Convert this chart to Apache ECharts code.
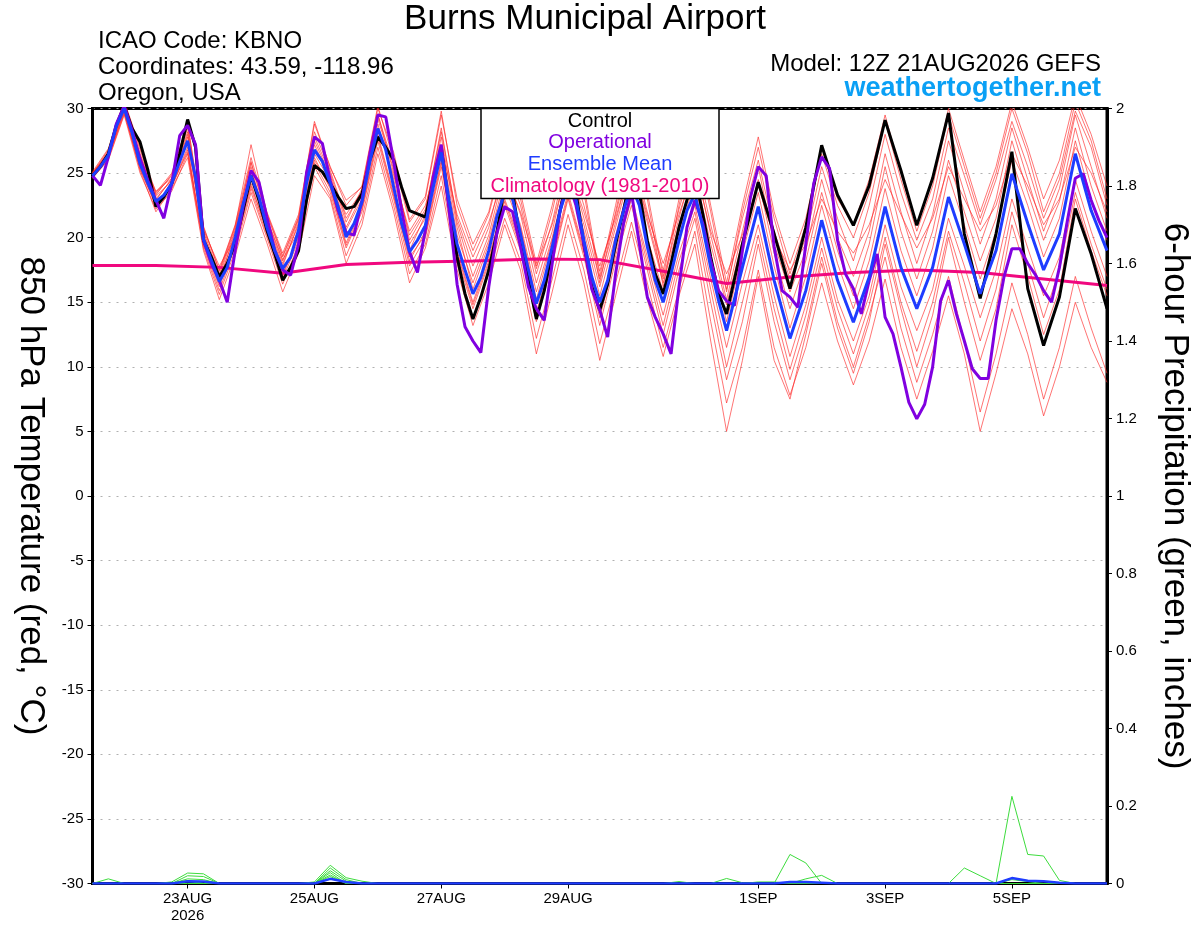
<!DOCTYPE html>
<html><head><meta charset="utf-8">
<script src="https://cdn.jsdelivr.net/npm/echarts@6/dist/echarts.min.js"></script>
<style>html,body{margin:0;padding:0;background:#fff}#c{width:1200px;height:927px}</style>
</head><body><div id="c"></div>
<script>
// ---- time axis: 3-hourly steps from 12Z 21AUG2026 to 12Z 06SEP2026 ----
const stepHours = 3;
const nSteps = 129;
const tickIndex = [12, 28, 44, 60, 84, 100, 116];
const tickLabels = ['23AUG\n2026', '25AUG', '27AUG', '29AUG', '1SEP', '3SEP', '5SEP'];

// ---- 850 hPa temperature (°C) ----
// Control: 3-hourly to 240h (index 0..80), then 6-hourly (index 82..128)
const control3h = [24.8,25.5,26.5,28.7,30.2,28.45,27.4,25.2,22.4,23.15,
24.2,26.5,29.15,27.0,19.8,18.5,16.95,18.0,19.5,22.1,
24.8,22.9,20.6,18.75,16.7,17.7,19.0,22.9,25.6,25.1,
24.2,23.15,22.25,22.4,23.4,26.0,27.8,27.0,26.0,23.9,
22.1,21.85,21.6,24.4,27.0,22.4,18.5,15.65,13.7,15.4,
17.5,20.3,24.0,23.5,19.8,16.7,13.7,15.9,19.0,22.1,
25.0,23.5,19.5,16.2,14.4,16.4,19.5,22.1,25.0,23.5,
19.8,17.2,15.65,18.0,20.8,22.9,24.8,21.85,18.5,15.65,14.1];
const control6h = [19.5,24.3,20.3,16.05,20.8,27.15,23.3,20.95,24.05,29.1,25.2,20.95,
24.6,29.65,20.3,15.3,20.3,26.65,16.05,11.65,15.4,22.25,18.75,14.5];

// Ensemble mean
const mean3h = [24.8,25.5,26.4,28.6,30.0,28.1,25.7,24.2,22.8,23.3,
24.2,25.9,27.5,24.7,19.9,18.25,16.6,17.7,20.05,22.6,
24.8,23.15,20.8,19.0,17.6,18.5,20.6,24.2,26.8,25.9,
24.2,22.4,20.05,21.1,22.75,25.9,28.45,26.8,23.9,21.1,
18.9,19.8,20.95,23.9,26.6,22.9,19.5,17.5,15.65,16.95,
19.0,21.6,23.5,23.0,20.3,17.5,14.9,16.7,19.3,22.1,
24.0,23.0,19.8,16.95,15.0,16.7,19.8,22.1,24.0,22.5,
19.3,16.7,15.0,17.2,19.8,22.1,23.4,20.8,17.7,15.1,12.8];
const mean6h = [17.7,22.4,16.7,12.2,15.9,21.35,16.7,13.45,16.95,22.4,17.7,14.5,
17.7,23.15,19.5,15.65,19.0,24.95,21.1,17.5,20.3,26.5,22.1,19.0];

// Operational: 3-hourly throughout (index 0..128)
const operational = [24.8,24.05,26.25,28.8,30.2,28.3,26.1,24.4,22.9,21.5,
24.2,27.9,28.7,27.2,19.8,18.0,16.7,15.0,19.0,22.4,
25.2,24.3,21.6,19.0,17.5,17.1,19.5,25.0,27.8,27.3,
24.4,22.1,20.4,20.2,22.9,26.5,29.5,29.35,25.9,22.1,
18.9,17.3,20.6,24.7,27.2,22.1,16.4,13.1,12.0,11.1,
16.2,20.3,22.4,22.0,19.3,16.2,14.5,13.6,18.0,22.1,
24.5,22.5,19.5,16.0,14.4,12.3,17.2,21.1,23.5,19.5,
15.4,13.85,12.55,11.0,16.2,20.8,22.9,21.1,18.2,15.9,
15.1,14.75,19.0,23.1,25.5,24.8,19.3,15.9,15.4,14.6,
19.5,24.2,26.25,25.35,19.8,17.2,16.05,14.1,16.7,18.75,
13.85,12.55,10.0,7.25,5.97,7.1,10.0,15.1,16.7,14.1,
12.0,9.85,9.1,9.1,13.6,16.95,19.15,19.15,18.0,17.1,
15.9,15.0,17.7,21.3,24.6,24.95,22.9,21.3,20.0];

// Climatology (1981-2010), daily at 12Z (index 0,8,...,128)
const climatology = [17.85,17.85,17.7,17.25,17.93,18.1,18.2,18.35,18.3,17.4,16.45,16.95,17.3,17.5,17.3,16.8,16.3];

// Ensemble members, 6-hourly (index 0,2,...,128)
const member01 = [25.0,26.8,30.4,26.5,23.4,24.8,28.5,20.5,17.2,20.8,25.8,21.8,18.5,21.5,28.2,25.2,21.5,23.5,29.6,25.0,20.2,22.2,28.2,21.5,17.8,20.8,25.8,22.5,17.2,21.2,26.5,22.5,17.4,21.8,26.8,22.0,17.5,22.2,26.5,21.0,16.0,21.5,26.0,20.5,16.8,20.0,25.5,21.5,18.2,22.5,28.0,23.5,19.8,23.0,28.5,24.8,21.0,24.5,29.0,25.5,21.5,24.5,29.8,27.0,22.5];
const member02 = [24.6,26.0,29.5,25.0,22.2,23.6,26.5,19.2,15.6,19.0,23.5,20.0,16.4,19.5,25.5,23.2,18.6,21.5,27.0,22.5,17.2,19.5,24.8,18.0,13.8,17.2,21.5,18.2,12.2,16.8,21.8,17.5,11.8,16.5,21.2,16.5,11.5,16.0,20.5,13.5,7.2,11.5,17.5,11.5,7.8,11.5,16.5,12.0,8.6,12.0,16.8,11.5,7.5,11.2,15.5,11.0,5.0,9.5,14.5,11.0,6.2,10.0,15.0,11.5,8.8];
const member03 = [24.9,26.5,30.2,26.0,23.0,24.5,27.8,20.2,16.8,20.2,25.2,21.2,18.0,21.0,27.2,24.6,20.6,23.0,28.8,24.5,19.5,21.5,27.2,20.2,16.5,19.8,24.5,21.0,15.8,20.0,25.0,21.0,16.2,20.8,25.5,21.2,16.5,21.0,25.0,19.5,14.8,19.8,24.5,18.8,14.5,18.2,23.5,19.0,15.5,19.5,25.5,20.5,16.8,20.5,26.0,22.0,18.2,21.5,27.5,23.5,19.8,22.8,28.5,24.0,20.5];
const member04 = [24.7,26.2,29.8,25.5,22.6,24.0,27.0,19.5,16.2,19.6,24.2,20.4,17.0,20.2,26.2,23.8,19.6,22.4,28.0,23.4,18.2,20.5,26.0,19.0,15.0,18.5,23.0,19.6,14.2,18.6,23.5,19.0,14.2,19.0,23.2,18.5,14.0,18.8,22.5,16.8,11.5,16.5,21.0,15.5,10.8,14.8,20.0,15.2,12.0,15.5,21.0,16.2,12.8,16.0,21.5,17.8,13.8,17.5,23.0,19.2,15.5,18.5,24.5,20.5,17.0];
const member05 = [25.1,26.9,30.6,27.0,23.5,25.0,28.8,20.8,17.5,21.0,26.2,22.0,18.8,21.8,28.8,25.5,22.5,24.0,30.2,26.0,21.2,23.0,29.5,23.0,19.5,22.0,27.0,23.5,18.0,22.5,28.0,24.0,17.0,22.5,28.5,23.5,17.0,23.0,28.8,22.5,16.5,22.5,27.8,22.0,18.0,21.5,27.0,23.0,21.0,24.5,29.5,25.0,21.0,24.5,30.0,26.0,22.0,25.5,30.5,27.0,23.0,26.0,31.0,28.0,24.0];
const member06 = [24.8,26.3,29.9,25.2,22.0,23.8,26.2,19.0,15.2,18.6,23.0,19.6,15.8,18.8,24.8,23.0,18.0,21.0,26.5,22.0,16.5,19.2,24.0,17.5,13.2,16.5,21.0,17.5,11.0,15.8,21.0,16.5,10.5,15.5,20.5,15.2,10.8,15.5,19.5,12.0,5.0,10.5,17.0,10.5,7.5,12.5,18.0,13.0,9.5,13.5,19.5,14.5,10.0,14.0,20.0,15.0,10.5,14.5,21.0,17.0,12.5,16.0,23.0,19.0,15.5];
const member07 = [25.0,26.6,30.1,25.8,23.2,24.4,28.0,20.0,16.5,20.5,25.5,21.0,17.8,21.2,27.5,24.8,20.8,23.3,29.2,25.3,19.0,21.8,27.8,20.8,16.0,19.5,24.0,20.8,15.2,19.8,24.8,20.5,15.5,20.2,24.8,20.0,15.8,20.5,24.2,18.5,13.5,18.8,23.5,17.8,13.0,17.0,22.5,18.0,14.5,18.2,23.8,19.0,15.5,19.2,24.8,21.0,16.8,20.5,26.0,22.5,18.5,21.5,27.5,23.0,19.8];
const member08 = [24.8,26.4,30.0,26.2,23.6,24.6,27.3,20.6,17.8,20.0,24.5,21.5,18.3,20.5,26.5,24.4,21.8,23.6,28.5,24.8,20.5,22.5,27.0,21.8,18.5,21.2,25.0,22.0,17.8,21.0,25.5,22.0,17.8,21.5,25.8,21.8,18.0,21.8,25.5,20.5,17.2,20.2,24.0,20.0,17.5,19.5,23.0,20.5,18.8,21.0,24.5,21.8,19.2,21.5,25.5,23.0,20.5,22.5,26.5,24.0,21.0,23.0,27.0,25.0,22.0];
const member09 = [24.6,26.1,29.6,25.4,22.4,23.9,26.8,19.4,15.9,19.3,23.8,20.2,16.8,19.8,25.8,23.5,19.2,22.0,27.5,23.0,17.8,20.0,25.5,18.5,14.5,18.0,22.5,19.0,13.5,18.0,23.0,18.5,13.2,18.2,22.5,17.5,12.5,17.5,21.5,15.0,9.0,13.5,19.5,13.5,9.0,13.0,18.5,13.5,10.0,14.0,18.5,13.0,8.8,12.5,17.0,12.0,6.5,11.0,16.5,12.5,7.5,11.5,17.0,13.0,9.5];
const member10 = [24.9,26.7,30.3,26.4,22.9,24.6,28.2,20.3,17.0,20.6,25.9,21.4,18.2,21.4,27.8,25.0,21.2,23.8,29.5,25.6,19.8,22.0,28.5,21.2,17.0,20.2,25.2,21.8,16.5,20.5,25.8,21.5,16.8,21.2,26.0,21.5,16.8,21.5,26.0,20.2,15.2,20.5,25.5,19.5,15.8,19.0,24.5,20.0,17.0,20.5,26.5,22.0,18.0,21.8,27.5,23.5,19.5,23.0,28.5,24.5,20.5,23.8,29.5,25.5,21.5];
const member11 = [24.7,26.3,29.7,25.3,22.5,24.1,26.6,19.7,16.4,19.8,24.0,20.6,17.2,20.0,26.0,23.9,19.4,22.2,27.8,23.2,18.5,20.2,25.8,18.8,14.8,18.2,22.8,19.3,13.8,18.3,23.2,18.8,13.8,18.6,23.0,18.0,13.2,18.2,22.0,16.0,10.0,15.0,20.2,14.5,9.8,14.0,19.2,14.5,11.0,14.8,20.0,15.0,11.2,15.0,20.5,16.5,12.0,16.0,22.0,18.0,13.8,17.5,23.5,19.5,16.0];
const member12 = [25.0,26.5,30.5,26.8,23.3,24.9,28.9,20.9,17.4,20.9,27.2,21.9,18.6,21.6,29.0,25.4,22.9,23.9,30.0,26.6,21.4,23.2,29.8,22.5,19.0,21.8,26.5,23.0,17.6,22.0,27.5,23.5,16.5,22.0,27.8,23.0,16.2,22.5,28.0,22.0,15.8,22.0,27.0,21.5,17.2,21.0,26.5,22.5,20.0,23.5,29.0,24.5,20.5,24.0,29.5,25.5,21.5,25.0,30.0,26.5,22.0,25.0,30.5,27.5,23.0];
const members = [member01,member02,member03,member04,member05,member06,member07,member08,member09,member10,member11,member12];

// ---- 6-hour precipitation (inches), nonzero 6-hourly steps [step, value]; all other steps 0 ----
const precipMember1 = [[1,0.012],[5,0.004],[6,0.027],[7,0.025],[14,0.004],[15,0.047],[16,0.015],[17,0.006]];
const precipMember2 = [[6,0.02],[7,0.018],[15,0.04],[16,0.01],[37,0.005],[40,0.013],[41,0.002]];
const precipMember3 = [[6,0.012],[7,0.01],[15,0.033],[16,0.006],[44,0.075],[45,0.053]];
const precipMember4 = [[6,0.008],[15,0.028],[42,0.004],[43,0.004],[45,0.012],[46,0.021]];
const precipMember5 = [[15,0.022],[55,0.04],[56,0.02],[58,0.225],[59,0.075],[60,0.071],[61,0.008]];
const precipMember6 = [[6,0.006],[15,0.018],[58,0.01],[59,0.005]];
const precipMembers = [precipMember1,precipMember2,precipMember3,precipMember4,precipMember5,precipMember6];
const precipMean = [[6,0.006],[7,0.005],[15,0.012],[16,0.004],[44,0.004],[45,0.004],[46,0.002],[58,0.014],[59,0.007],[60,0.006],[61,0.002]];

// ---- build ----
const FONT = '"Liberation Sans", Arial, Helvetica, sans-serif';
const categories = Array.from({length: nSteps}, (_, j) => String(j * stepHours));
const tickSet = new Set(tickIndex);
function labelFor(idx) { const k = tickIndex.indexOf(idx); return k >= 0 ? tickLabels[k] : ''; }
function hybrid(a3, a6) { return a3.map((v, j) => [j, v]).concat(a6.map((v, k) => [a3.length + 1 + 2 * k, v])); }
function six(arr) { return arr.map((v, i) => [2 * i, v]); }
function sparse(list) {
  const full = new Array(65).fill(0);
  list.forEach(([i, v]) => { full[i] = v; });
  return six(full);
}

const series = [];
members.forEach((m, k) => series.push({
  name: 'member' + (k + 1), type: 'line', data: six(m), yAxisIndex: 0,
  showSymbol: false, silent: true, z: 2,
  lineStyle: { color: 'rgba(255,40,40,0.72)', width: 0.9 }
}));
precipMembers.forEach((m, k) => series.push({
  name: 'precip' + (k + 1), type: 'line', data: sparse(m), yAxisIndex: 1,
  showSymbol: false, silent: true, z: 3,
  lineStyle: { color: '#3ddc3d', width: 1 }
}));
series.push({ name: 'precipMean', type: 'line', data: sparse(precipMean), yAxisIndex: 1,
  showSymbol: false, z: 4, lineStyle: { color: '#1e3cff', width: 2.5 } });
series.push({ name: 'Climatology (1981-2010)', type: 'line', data: climatology.map((v, d) => [8 * d, v]), yAxisIndex: 0,
  showSymbol: false, z: 5, lineStyle: { color: '#f0087f', width: 3 } });
series.push({ name: 'Control', type: 'line', data: hybrid(control3h, control6h), yAxisIndex: 0,
  showSymbol: false, z: 6, lineStyle: { color: '#000000', width: 3 } });
series.push({ name: 'Operational', type: 'line', data: operational.map((v, j) => [j, v]), yAxisIndex: 0,
  showSymbol: false, z: 7, lineStyle: { color: '#8000e0', width: 3 } });
series.push({ name: 'Ensemble Mean', type: 'line', data: hybrid(mean3h, mean6h), yAxisIndex: 0,
  showSymbol: false, z: 8, lineStyle: { color: '#1e3cff', width: 3 } });

const legendItems = [
  ['Control', '#000000'], ['Operational', '#8000e0'],
  ['Ensemble Mean', '#1e3cff'], ['Climatology (1981-2010)', '#f0087f']
];

const chart = echarts.init(document.getElementById('c'), null, { renderer: 'canvas' });
chart.setOption({
  animation: false,
  backgroundColor: '#ffffff',
  textStyle: { fontFamily: FONT },
  grid: { left: 92.5, right: 93, top: 108.5, bottom: 43.5, show: true, borderColor: '#000', borderWidth: 3, backgroundColor: 'transparent' },
  xAxis: {
    type: 'category', data: categories, boundaryGap: false,
    axisLine: { onZero: false, lineStyle: { color: '#000', width: 3 } },
    axisTick: { interval: (i) => tickSet.has(i), length: 5, lineStyle: { color: '#000', width: 1 } },
    axisLabel: { interval: (i) => tickSet.has(i), formatter: (v, i) => labelFor(i), color: '#000', fontSize: 15, fontFamily: FONT, margin: 7, lineHeight: 17 },
    splitLine: { show: false }
  },
  yAxis: [
    {
      type: 'value', min: -30, max: 30, interval: 5, position: 'left',
      name: '850 hPa Temperature (red, °C)', nameLocation: 'middle', nameRotate: -90, nameGap: 44,
      nameTextStyle: { color: '#000', fontSize: 35, fontFamily: FONT },
      axisLine: { show: true, onZero: false, lineStyle: { color: '#000', width: 3 } },
      axisTick: { show: true, length: 5, lineStyle: { color: '#000' } },
      axisLabel: { color: '#000', fontSize: 15, fontFamily: FONT, margin: 9 },
      splitLine: { show: true, lineStyle: { color: '#b0b0b0', type: [2, 6], width: 1 } }
    },
    {
      type: 'value', min: 0, max: 2, interval: 0.2, position: 'right',
      name: '6-hour Precipitation (green, inches)', nameLocation: 'middle', nameRotate: -90, nameGap: 50,
      nameTextStyle: { color: '#000', fontSize: 35, fontFamily: FONT },
      axisLine: { show: true, onZero: false, lineStyle: { color: '#000', width: 3 } },
      axisTick: { show: true, length: 5, lineStyle: { color: '#000' } },
      axisLabel: { color: '#000', fontSize: 15, fontFamily: FONT, margin: 9 },
      splitLine: { show: false }
    }
  ],
  series: series,
  graphic: [
    { type: 'text', x: 585, y: 19, z: 100, style: { text: 'Burns Municipal Airport', font: '35px ' + FONT, fill: '#000', textAlign: 'center', textVerticalAlign: 'middle' } },
    { type: 'text', x: 98, y: 41, z: 100, style: { text: 'ICAO Code: KBNO', font: '24px ' + FONT, fill: '#000', textVerticalAlign: 'middle' } },
    { type: 'text', x: 98, y: 67, z: 100, style: { text: 'Coordinates: 43.59, -118.96', font: '24px ' + FONT, fill: '#000', textVerticalAlign: 'middle' } },
    { type: 'text', x: 98, y: 93, z: 100, style: { text: 'Oregon, USA', font: '24px ' + FONT, fill: '#000', textVerticalAlign: 'middle' } },
    { type: 'text', x: 1101, y: 64, z: 100, style: { text: 'Model: 12Z 21AUG2026 GEFS', font: '24px ' + FONT, fill: '#000', textAlign: 'right', textVerticalAlign: 'middle' } },
    { type: 'text', x: 1101, y: 89, z: 100, style: { text: 'weathertogether.net', font: 'bold 27px ' + FONT, fill: '#0aa0f5', textAlign: 'right', textVerticalAlign: 'middle' } },
    {
      type: 'group', z: 100, children: [
        { type: 'rect', shape: { x: 481, y: 108.5, width: 238, height: 90 }, style: { fill: '#fff', stroke: '#000', lineWidth: 1.5 }, z: 100 }
      ].concat(legendItems.map((it, k) => ({
        type: 'text', x: 600, y: 121 + k * 21.7, z: 101,
        style: { text: it[0], font: '20px ' + FONT, fill: it[1], textAlign: 'center', textVerticalAlign: 'middle' }
      })))
    }
  ]
});
</script>
</body></html>
